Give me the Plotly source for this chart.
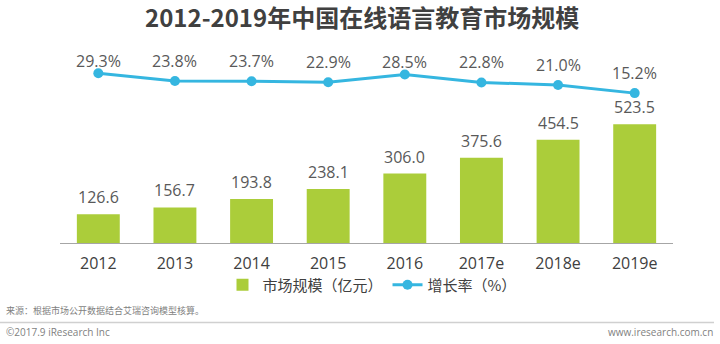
import plotly.graph_objects as go

categories = ["2012", "2013", "2014", "2015", "2016", "2017e", "2018e", "2019e"]
market_size = [126.6, 156.7, 193.8, 238.1, 306.0, 375.6, 454.5, 523.5]
growth_rate = [29.3, 23.8, 23.7, 22.9, 28.5, 22.8, 21.0, 15.2]
rate_label_shift = [12, 20, 20, 20, 12, 20, 20, 20]

W, H = 720, 344
L, R, T, B = 60, 47, 60, 101
pw, ph = W - L - R, H - T - B


def px_x(px):
    return (px - L) / pw


def px_y(py):
    return (H - B - py) / ph


FONT = "Open Sans, Noto Sans CJK SC, sans-serif"
CJK = "Noto Sans CJK SC, sans-serif"
GREEN = "#abcd3a"
BLUE = "#35b6e0"

xpos = list(range(len(categories)))

fig = go.Figure()
fig.add_trace(go.Bar(
    x=xpos, y=market_size, name="市场规模（亿元）",
    marker=dict(color=GREEN, line=dict(width=0)),
    yaxis="y", hoverinfo="skip"))
fig.add_trace(go.Scatter(
    x=xpos, y=growth_rate, name="增长率（%）",
    mode="lines+markers", line=dict(color=BLUE, width=3),
    marker=dict(color=BLUE, size=10), yaxis="y2", hoverinfo="skip"))

annotations = []
for i, v in zip(xpos, market_size):
    annotations.append(dict(x=i, y=v, xref="x", yref="y", text=f"{v:.1f}",
                            showarrow=False, yanchor="middle", yshift=17,
                            font=dict(family=FONT, size=16, color="#595959")))
for i, v, s in zip(xpos, growth_rate, rate_label_shift):
    annotations.append(dict(x=i, y=v, xref="x", yref="y2", text=f"{v:.1f}%",
                            showarrow=False, yanchor="middle", yshift=s,
                            font=dict(family=FONT, size=16, color="#595959")))

annotations += [
    dict(x=px_x(362), y=px_y(17), xref="paper", yref="paper",
         text="<b>2012-2019年中国在线语言教育市场规模</b>", showarrow=False,
         xanchor="center", yanchor="middle",
         font=dict(family=CJK, size=24, color="#404040")),
    dict(x=px_x(4), y=px_y(310), xref="paper", yref="paper",
         text="来源：根据市场公开数据结合艾瑞咨询模型核算。", showarrow=False,
         xanchor="left", yanchor="middle",
         font=dict(family=CJK, size=9, color="#7f7f7f")),
    dict(x=px_x(4), y=px_y(332), xref="paper", yref="paper",
         text="©2017.9 iResearch Inc", showarrow=False,
         xanchor="left", yanchor="middle",
         font=dict(family=FONT, size=10, color="#7f7f7f")),
    dict(x=px_x(715), y=px_y(332), xref="paper", yref="paper",
         text="www.iresearch.com.cn", showarrow=False,
         xanchor="right", yanchor="middle",
         font=dict(family=FONT, size=10, color="#7f7f7f")),
]

shapes = [dict(type="line", xref="paper", yref="paper",
               x0=px_x(0), x1=px_x(714), y0=px_y(322.5), y1=px_y(322.5),
               line=dict(color="#d0d0d0", width=1.5))]

fig.update_layout(
    width=W, height=H,
    margin=dict(l=L, r=R, t=T, b=B, pad=0),
    paper_bgcolor="white", plot_bgcolor="white",
    font=dict(family=FONT, color="#404040"),
    bargap=0.44,
    showlegend=True,
    legend=dict(orientation="h", x=px_x(372), xanchor="center",
                y=px_y(285), yanchor="middle",
                font=dict(family=CJK, size=15, color="#404040"),
                itemwidth=30, tracegroupgap=0, bgcolor="rgba(0,0,0,0)"),
    xaxis=dict(range=[-0.5, len(categories) - 0.5], tickmode="array",
               tickvals=xpos, ticktext=categories,
               showline=True, linecolor="#a6a6a6", linewidth=1,
               ticks="", showgrid=False, zeroline=False,
               tickfont=dict(family=FONT, size=16, color="#404040"),
               ticklabelstandoff=6),
    yaxis=dict(range=[0, 806], visible=False, showgrid=False, zeroline=False),
    yaxis2=dict(range=[-91.6, 38.8], overlaying="y", side="right",
                visible=False, showgrid=False, zeroline=False),
    annotations=annotations, shapes=shapes,
)

fig.write_html("out.html")
